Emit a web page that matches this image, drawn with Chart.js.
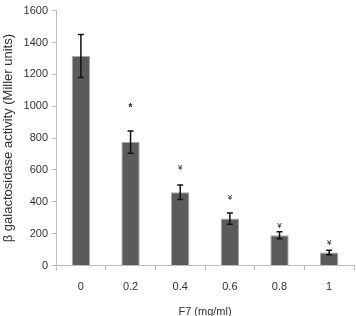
<!DOCTYPE html>
<html>
<head>
<meta charset="utf-8">
<script src="https://cdn.jsdelivr.net/npm/chart.js@4"></script>
<style>
  html, body { margin: 0; padding: 0; background: #fff; }
  #wrap { width: 356px; height: 316px; position: relative; }
</style>
</head>
<body>
<div id="wrap"><canvas id="myChart" width="356" height="316"></canvas></div>
<script>
// dados do gráfico
const doses = ['0', '0.2', '0.4', '0.6', '0.8', '1'];
const activity = [1315, 775, 460, 295, 190, 82];
const errors = [135, 70, 45, 35, 22, 14];
const sigMarks = ['', '*', '¥', '¥', '¥', '¥'];
const sigLevel = [null, 1000, 614, 424, 247, 146];
const yTicks = [0, 200, 400, 600, 800, 1000, 1200, 1400, 1600];

const fonte = '"Liberation Sans", Arial, sans-serif';

// barras de erro e marcas de significância
const errorBarPlugin = {
    id: 'errorBars',
    afterDatasetsDraw(chart) {
        const ctx = chart.ctx;
        const x = chart.scales.x;
        const y = chart.scales.y;
        ctx.save();
        ctx.strokeStyle = '#111';
        ctx.lineWidth = 1.5;
        activity.forEach((v, i) => {
            const cx = x.getPixelForValue(i);
            const top = y.getPixelForValue(v + errors[i]);
            const bot = y.getPixelForValue(v - errors[i]);
            ctx.beginPath();
            ctx.moveTo(cx, top); ctx.lineTo(cx, bot);
            ctx.moveTo(cx - 3, top); ctx.lineTo(cx + 3, top);
            ctx.moveTo(cx - 3, bot); ctx.lineTo(cx + 3, bot);
            ctx.stroke();
            if (sigMarks[i]) {
                ctx.fillStyle = '#222';
                ctx.font = (sigMarks[i] === '*' ? 'bold 10px ' : '8px ') + fonte;
                ctx.textAlign = 'center';
                ctx.textBaseline = 'middle';
                ctx.fillText(sigMarks[i], cx, y.getPixelForValue(sigLevel[i]) + (sigMarks[i] === '*' ? 2 : 0));
            }
        });
        ctx.restore();
    }
};

const ctx = document.getElementById('myChart').getContext('2d');
new Chart(ctx, {
    type: 'bar',
    data: {
        labels: doses,
        datasets: [{
            data: activity,
            backgroundColor: '#5b5b5b',
            borderColor: '#a8a8a8',
            borderWidth: 1,
            categoryPercentage: 1,
            barPercentage: 0.37
        }]
    },
    options: {
        responsive: false,
        animation: false,
        layout: { padding: { top: 6, right: 2, left: 1, bottom: -3 } },
        plugins: { legend: { display: false }, tooltip: { enabled: false } },
        scales: {
            x: {
                offset: true,
                border: { color: '#bdbdbd', width: 1 },
                grid: { offset: true, drawOnChartArea: false, drawTicks: true, tickLength: 5, color: '#bdbdbd' },
                ticks: { color: '#333', font: { family: fonte, size: 11 }, padding: 10 },
                title: { display: true, text: 'F7 (mg/ml)', color: '#333', font: { family: fonte, size: 11 }, padding: { top: 2, bottom: 0 } }
            },
            y: {
                min: 0,
                max: 1600,
                afterBuildTicks: axis => { axis.ticks = yTicks.map(v => ({ value: v })); },
                border: { color: '#bdbdbd', width: 1 },
                grid: { drawOnChartArea: false, drawTicks: true, tickLength: 4, color: '#bdbdbd' },
                ticks: { color: '#333', font: { family: fonte, size: 11 }, padding: 4, callback: v => String(v) },
                title: { display: true, text: 'β galactosidase activity (Miller units)', color: '#333', font: { family: fonte, size: 13 }, padding: { top: 0, bottom: 3 } }
            }
        }
    },
    plugins: [errorBarPlugin]
});
</script>
</body>
</html>
